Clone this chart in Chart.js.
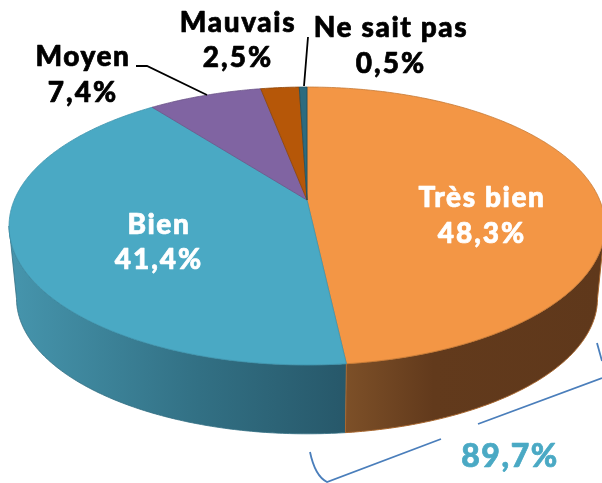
<!DOCTYPE html>
<html>
<head>
<meta charset="utf-8">
<style>
  html, body { margin: 0; padding: 0; background: #fff; }
  canvas { display: block; }
</style>
<script src="https://cdn.jsdelivr.net/npm/chart.js@4"></script>
</head>
<body>
<canvas id="chart" width="602" height="483"></canvas>
<script>
// Chart data
const categories = ['Très bien', 'Bien', 'Moyen', 'Mauvais', 'Ne sait pas'];
const values = [48.3, 41.4, 7.4, 2.5, 0.5];
const bracketValue = 89.7;

// Slice colours
const topColors = ['#F39645', '#4AA9C4', '#8064A2', '#B65708', '#2C6B7F'];
const edgeColors = ['#C57A36', '#3F94AD', '#6C5489', '#8E4406', '#20505F'];

// Where each label sits: [centre x, first baseline, second baseline, colour]
const labelSpots = [
  [482, 207, 243, '#fff'],
  [159, 234, 269, '#fff'],
  [83, 66, 102, '#000'],
  [238, 32, 67, '#000'],
  [391, 37, 73, '#000']
];

// Perspective of the pie: the top disc and the smaller disc under it
const persp = { cx: 307, a: 292.7, b: 134.1, k: 0.187 };
const topDisc = { ay: 200, s: 1 };
const lowDisc = { ay: 273, s: 0.975 };

// The wall is only seen between the widest points of the discs
const wallFrom = Math.acos(-persp.k);
const wallTo = 2 * Math.PI - wallFrom;

function project(disc, theta) {
  const u = Math.sin(theta), v = Math.cos(theta);
  const w = 1 + persp.k * v;
  return [persp.cx + persp.a * disc.s * u / w, disc.ay - persp.b * disc.s * v / w];
}

function rimPoints(disc, from, to) {
  const steps = Math.max(2, Math.ceil((to - from) / 0.01));
  const pts = [];
  for (let i = 0; i <= steps; i++) pts.push(project(disc, from + (to - from) * i / steps));
  return pts;
}

// Chart.js angles start at -PI/2, theta here starts at the top of the pie
const thetaStart = arc => arc.startAngle + Math.PI / 2;
const thetaEnd = arc => arc.endAngle + Math.PI / 2;

function wallFill(ctx, index) {
  const g = ctx.createLinearGradient(0, 0, 602, 0);
  if (index === 0) {
    g.addColorStop(0.573, '#7D5028');
    g.addColorStop(0.72, '#623A1C');
    g.addColorStop(1, '#5F381B');
  } else {
    g.addColorStop(0, '#4797AF');
    g.addColorStop(0.33, '#327084');
    g.addColorStop(0.573, '#27586A');
  }
  return g;
}

// Draws the arcs Chart.js computed as a 3D pie
const pie3d = {
  id: 'pie3d',
  beforeDatasetsDraw(chart) {
    const ctx = chart.ctx;
    const arcs = chart.getDatasetMeta(0).data;
    ctx.save();
    ctx.lineJoin = 'round';

    // side wall, only the two front slices are visible
    [1, 0].forEach(i => {
      const from = Math.max(thetaStart(arcs[i]), wallFrom);
      const to = Math.min(thetaEnd(arcs[i]), wallTo);
      const upper = rimPoints(topDisc, from, to);
      const lower = rimPoints(lowDisc, from, to).reverse();
      ctx.beginPath();
      upper.concat(lower).forEach((p, n) => n ? ctx.lineTo(p[0], p[1]) : ctx.moveTo(p[0], p[1]));
      ctx.closePath();
      ctx.fillStyle = wallFill(ctx, i);
      ctx.fill();
      ctx.lineWidth = 1;
      ctx.strokeStyle = i === 0 ? '#A8672F' : 'rgba(50,110,130,0.8)';
      ctx.stroke();
    });

    // top face
    arcs.forEach((arc, i) => {
      ctx.beginPath();
      ctx.moveTo(persp.cx, topDisc.ay);
      rimPoints(topDisc, thetaStart(arc), thetaEnd(arc)).forEach(p => ctx.lineTo(p[0], p[1]));
      ctx.closePath();
      ctx.fillStyle = topColors[i];
      ctx.fill();
      ctx.lineWidth = 0.8;
      ctx.strokeStyle = edgeColors[i];
      ctx.stroke();
    });
    ctx.restore();
    return false;
  },
  afterDraw(chart) {
    const ctx = chart.ctx;
    ctx.save();

    // leader lines
    ctx.strokeStyle = '#000';
    ctx.lineWidth = 1.8;
    ctx.beginPath();
    ctx.moveTo(136, 66);
    ctx.lineTo(147, 66);
    ctx.lineTo(207, 95);
    ctx.moveTo(308, 37);
    ctx.lineTo(304, 86);
    ctx.stroke();

    // bracket under the two big slices
    ctx.strokeStyle = '#4A7EBB';
    ctx.lineWidth = 1.8;
    ctx.beginPath();
    ctx.moveTo(310, 452);
    ctx.quadraticCurveTo(315, 476, 327, 482);
    ctx.lineTo(441, 439);
    ctx.moveTo(478, 424);
    ctx.lineTo(602, 378);
    ctx.moveTo(597, 343);
    ctx.lineTo(602, 361);
    ctx.stroke();

    // labels, Lato bold opened up and thickened a little
    ctx.textAlign = 'center';
    ctx.textBaseline = 'alphabetic';
    ctx.lineJoin = 'round';
    ctx.lineWidth = 0.7;
    ctx.font = '900 28px Lato';
    const heavyText = (text, x, y, color, spacing) => {
      ctx.letterSpacing = spacing;
      ctx.fillStyle = color;
      ctx.strokeStyle = color;
      ctx.fillText(text, x, y);
      ctx.strokeText(text, x, y);
    };
    categories.forEach((name, i) => {
      const [x, y1, y2, color] = labelSpots[i];
      heavyText(name, x, y1, color, '1.6px');
      heavyText(values[i].toFixed(1).replace('.', ',') + '%', x, y2, color, '2px');
    });
    ctx.font = '900 32px Lato';
    heavyText(bracketValue.toFixed(1).replace('.', ',') + '%', 510, 467, '#4AA9C4', '1.6px');
    ctx.restore();
  }
};

new Chart(document.getElementById('chart').getContext('2d'), {
  type: 'pie',
  data: {
    labels: categories,
    datasets: [{ data: values, backgroundColor: topColors, borderWidth: 0 }]
  },
  options: {
    responsive: false,
    animation: false,
    plugins: { legend: { display: false }, tooltip: { enabled: false } }
  },
  plugins: [pie3d]
});
</script>
</body>
</html>
